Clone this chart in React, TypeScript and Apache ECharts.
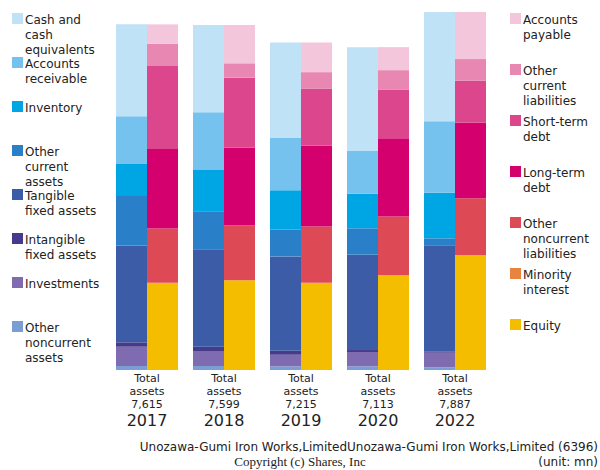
import React, { useEffect, useRef } from "react";
import * as echarts from "echarts";

const years = ["2017", "2018", "2019", "2020", "2022"];
const totalAssets = [7615, 7599, 7215, 7113, 7887];

// Assets (bottom to top)
const otherNoncurrentAssets = [88, 88, 81, 81, 59];
const investments = [425, 330, 255, 315, 322];
const intangibleFixedAssets = [97, 95, 88, 44, 22];
const tangibleFixedAssets = [2134, 2146, 2078, 2100, 2344];
const otherCurrentAssets = [1091, 837, 586, 582, 154];
const inventory = [704, 910, 874, 762, 1005];
const accountsReceivable = [1049, 1271, 1151, 941, 1573];
const cashAndEquivalents = [2027, 1922, 2102, 2288, 2408];

// Liabilities & equity (bottom to top)
const equity = [1923, 1976, 1922, 2087, 2533];
const minorityInterest = [0, 0, 0, 0, 0];
const otherNoncurrentLiabilities = [1197, 1212, 1242, 1292, 1249];
const longTermDebt = [1751, 1710, 1775, 1728, 1665];
const shortTermDebt = [1826, 1542, 1255, 1071, 925];
const otherCurrentLiabilities = [493, 317, 368, 428, 478];
const accountsPayable = [425, 842, 653, 507, 1037];

const assetSeries = [
  { name: "Other noncurrent assets", label: "Other\nnoncurrent\nassets", color: "#7a9ed4", data: otherNoncurrentAssets },
  { name: "Investments", label: "Investments", color: "#7f6bb0", data: investments },
  { name: "Intangible fixed assets", label: "Intangible\nfixed assets", color: "#463a8a", data: intangibleFixedAssets },
  { name: "Tangible fixed assets", label: "Tangible\nfixed assets", color: "#3c5ca8", data: tangibleFixedAssets },
  { name: "Other current assets", label: "Other\ncurrent\nassets", color: "#2a80c8", data: otherCurrentAssets },
  { name: "Inventory", label: "Inventory", color: "#00a5e3", data: inventory },
  { name: "Accounts receivable", label: "Accounts\nreceivable", color: "#75c2ef", data: accountsReceivable },
  { name: "Cash and cash equivalents", label: "Cash and\ncash\nequivalents", color: "#bfe2f7", data: cashAndEquivalents },
];

const liabSeries = [
  { name: "Equity", label: "Equity", color: "#f5bd00", data: equity },
  { name: "Minority interest", label: "Minority\ninterest", color: "#e8843f", data: minorityInterest },
  { name: "Other noncurrent liabilities", label: "Other\nnoncurrent\nliabilities", color: "#dd4a55", data: otherNoncurrentLiabilities },
  { name: "Long-term debt", label: "Long-term\ndebt", color: "#d4006e", data: longTermDebt },
  { name: "Short-term debt", label: "Short-term\ndebt", color: "#dc468c", data: shortTermDebt },
  { name: "Other current liabilities", label: "Other\ncurrent\nliabilities", color: "#e888b2", data: otherCurrentLiabilities },
  { name: "Accounts payable", label: "Accounts\npayable", color: "#f4c6dc", data: accountsPayable },
];

const FONT = "DejaVu Sans";

export default function App() {
  const ref = useRef<HTMLDivElement>(null);
  useEffect(() => {
    if (!ref.current) return;
    const chart = echarts.init(ref.current, null, { renderer: "svg" });

    const mkBar = (s: any, stack: string) => ({
      name: s.name,
      type: "bar",
      stack,
      barWidth: 31,
      barGap: "0%",
      barCategoryGap: 15,
      itemStyle: { color: s.color },
      data: s.data,
    });

    const legendGraphics: any[] = [];
    const leftItems = [...assetSeries].reverse();
    leftItems.forEach((s, i) => {
      const cy = 18 + i * 44;
      legendGraphics.push({
        type: "rect",
        shape: { x: 12, y: cy - 5, width: 11, height: 11 },
        style: { fill: s.color },
      });
      legendGraphics.push({
        type: "text",
        x: 25,
        y: cy - 6,
        style: {
          text: s.label,
          font: `12px '${FONT}'`,
          fill: "#222",
          lineHeight: 15,
          verticalAlign: "top",
          align: "left",
        },
      });
    });
    const rightItems = [...liabSeries].reverse();
    rightItems.forEach((s, i) => {
      const cy = 18 + i * 51;
      legendGraphics.push({
        type: "rect",
        shape: { x: 510, y: cy - 5, width: 11, height: 11 },
        style: { fill: s.color },
      });
      legendGraphics.push({
        type: "text",
        x: 523,
        y: cy - 5.5,
        style: {
          text: s.label,
          font: `12px '${FONT}'`,
          fill: "#222",
          lineHeight: 15,
          verticalAlign: "top",
          align: "left",
        },
      });
    });

    legendGraphics.push({
      type: "text",
      x: 598,
      y: 447,
      style: {
        text: "Unozawa-Gumi Iron Works,LimitedUnozawa-Gumi Iron Works,Limited (6396)",
        font: `12px '${FONT}'`,
        fill: "#222",
        align: "right",
        verticalAlign: "middle",
      },
    });
    legendGraphics.push({
      type: "text",
      x: 598,
      y: 461.5,
      style: {
        text: "(unit: mn)",
        font: `12px '${FONT}'`,
        fill: "#222",
        align: "right",
        verticalAlign: "middle",
      },
    });
    legendGraphics.push({
      type: "text",
      x: 300,
      y: 461,
      style: {
        text: "Copyright (c) Shares, Inc",
        font: "13px 'Liberation Serif'",
        fill: "#222",
        align: "center",
        verticalAlign: "middle",
      },
    });

    chart.setOption({
      animation: false,
      grid: { left: 108.5, right: 106.5, top: 12, bottom: 100 },
      xAxis: {
        type: "category",
        data: years,
        axisLine: { show: false },
        axisTick: { show: false },
        axisLabel: {
          margin: 2,
          interval: 0,
          formatter: (v: string, idx: number) =>
            `{a|Total}\n{a|assets}\n{a|${totalAssets[idx].toLocaleString("en-US")}}\n{b|${v}}`,
          rich: {
            a: { fontFamily: FONT, fontSize: 11, lineHeight: 13, color: "#222" },
            b: { fontFamily: FONT, fontSize: 16, lineHeight: 19, color: "#222" },
          },
        },
      },
      yAxis: {
        type: "value",
        min: 0,
        max: 7887,
        show: false,
        splitLine: { show: false },
      },
      series: [
        ...assetSeries.map((s) => mkBar(s, "assets")),
        ...liabSeries.map((s) => mkBar(s, "liab")),
      ],
      graphic: legendGraphics,
    });
    return () => chart.dispose();
  }, []);
  return <div ref={ref} style={{ width: 600, height: 470, position: "absolute", left: 0, top: 0 }} />;
}
